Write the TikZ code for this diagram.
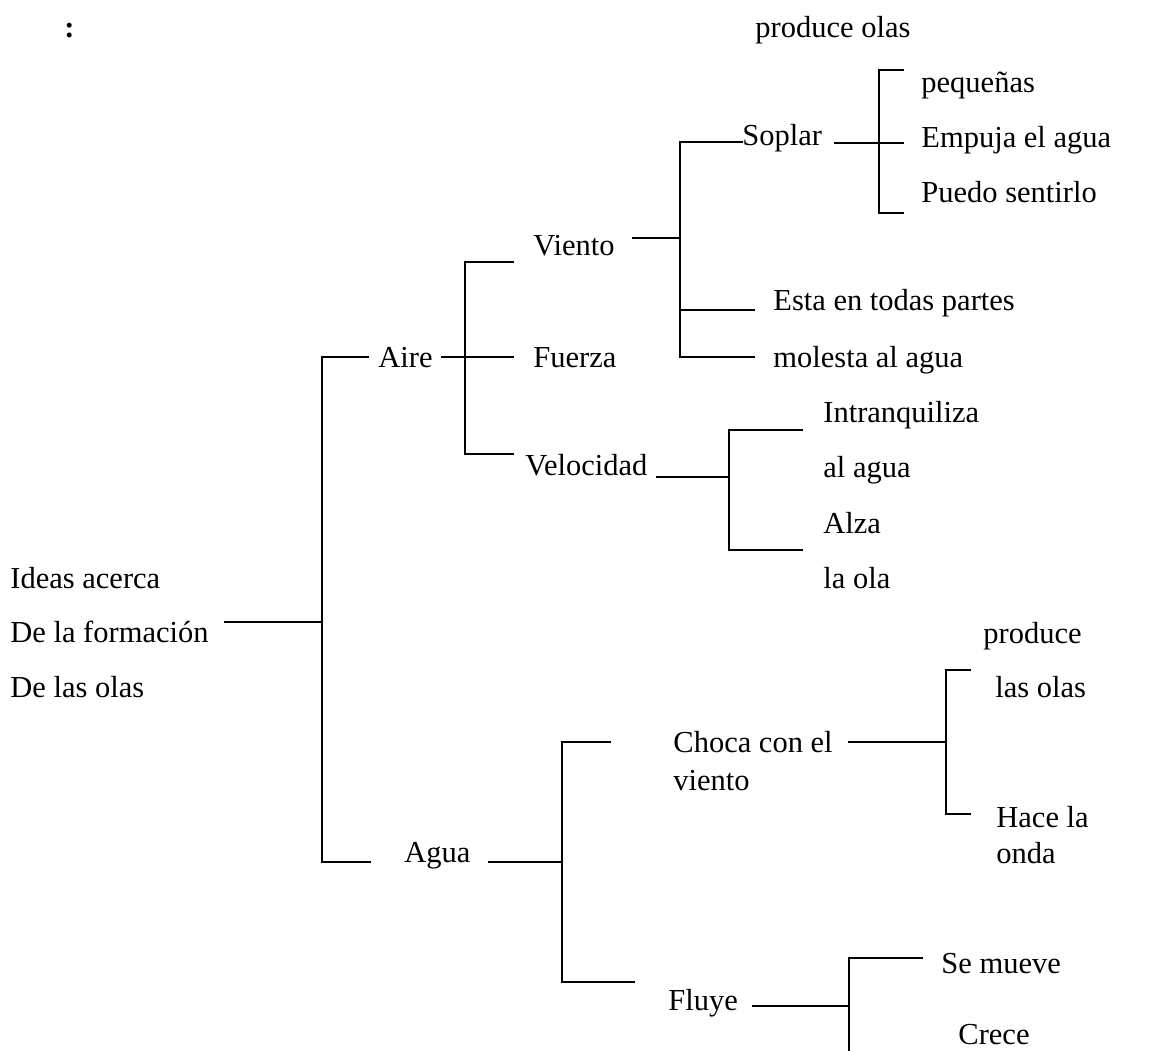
\documentclass[tikz,border=0pt]{standalone}
\usepackage{fontspec}
\setmainfont{Liberation Serif}
\begin{document}
\begin{tikzpicture}[x=0.5pt,y=-0.5pt,
  lbl/.style={anchor=base west,inner sep=0pt,font=\fontsize{15.25pt}{18pt}\selectfont},
  wire/.style={line width=1.1pt,line cap=rect}]
\useasboundingbox (0,0) rectangle (1155,1050);

% --- labels (x = left edge, y = baseline) ---
\node[lbl,font=\fontsize{15.25pt}{18pt}\selectfont\bfseries] (colon) at (64,37) {:};
\node[lbl] (prodolas) at (755,37) {produce olas};
\node[lbl] (peq) at (921,92) {pequeñas};
\node[lbl] (soplar) at (742,145) {Soplar};
\node[lbl] (empuja) at (921,147) {Empuja el agua};
\node[lbl] (puedo) at (921,202) {Puedo sentirlo};
\node[lbl] (viento) at (533,255) {Viento};
\node[lbl] (esta) at (773,310) {Esta en todas partes};
\node[lbl] (aire) at (378,367) {Aire};
\node[lbl] (fuerza) at (533,367) {Fuerza};
\node[lbl] (molesta) at (773,367) {molesta al agua};
\node[lbl] (intran) at (823,422) {Intranquiliza};
\node[lbl] (velocidad) at (525,475) {Velocidad};
\node[lbl] (alagua) at (823,477) {al agua};
\node[lbl] (alza) at (823,533) {Alza};
\node[lbl] (ideas) at (10,588) {Ideas acerca};
\node[lbl] (laola) at (823,588) {la ola};
\node[lbl] (formacion) at (10,642) {De la formación};
\node[lbl] (produce) at (983,643) {produce};
\node[lbl] (delasolas) at (10,697) {De las olas};
\node[lbl] (lasolas) at (995,697) {las olas};
\node[lbl] (choca) at (673,752) {Choca con el};
\node[lbl] (choca2) at (673,790) {viento};
\node[lbl] (hace) at (996,827) {Hace la};
\node[lbl] (onda) at (996,863) {onda};
\node[lbl] (agua) at (404,862) {Agua};
\node[lbl] (semueve) at (941,973) {Se mueve};
\node[lbl] (fluye) at (668,1010) {Fluye};
\node[lbl] (crece) at (958,1044) {Crece};

% --- joints of the brackets ---
\coordinate (r0) at (225,622);  \coordinate (rm) at (322,622);
\coordinate (rt) at (322,357);  \coordinate (rte) at (368,357);
\coordinate (rb) at (322,862);  \coordinate (rbe) at (370,862);

\coordinate (a0) at (442,357);  \coordinate (am) at (465,357);
\coordinate (a1) at (513,357);
\coordinate (at) at (465,262);  \coordinate (ate) at (513,262);
\coordinate (ab) at (465,454);  \coordinate (abe) at (513,454);

\coordinate (v0) at (633,238);  \coordinate (vm) at (680,238);
\coordinate (vt) at (680,142);  \coordinate (vte) at (742,142);
\coordinate (v2) at (680,310);  \coordinate (v2e) at (754,310);
\coordinate (vb) at (680,357);  \coordinate (vbe) at (754,357);

\coordinate (s0) at (835,143);  \coordinate (sm) at (879,143);
\coordinate (s1) at (903,143);
\coordinate (st) at (879,70);   \coordinate (ste) at (903,70);
\coordinate (sb) at (879,213);  \coordinate (sbe) at (903,213);

\coordinate (e0) at (657,477);  \coordinate (em) at (729,477);
\coordinate (et) at (729,430);  \coordinate (ete) at (802,430);
\coordinate (eb) at (729,550);  \coordinate (ebe) at (802,550);

\coordinate (g0) at (489,862);  \coordinate (gm) at (562,862);
\coordinate (gt) at (562,742);  \coordinate (gte) at (610,742);
\coordinate (gb) at (562,982);  \coordinate (gbe) at (634,982);

\coordinate (c0) at (849,742);  \coordinate (cm) at (946,742);
\coordinate (ct) at (946,670);  \coordinate (cte) at (970,670);
\coordinate (cb) at (946,814);  \coordinate (cbe) at (970,814);

\coordinate (f0) at (753,1006); \coordinate (fm) at (849,1006);
\coordinate (ft) at (849,958);  \coordinate (fte) at (922,958);
\coordinate (fb) at (849,1052);

% --- connectors ---
\draw[wire] (r0) -- (rm);
\draw[wire] (rte) -- (rt) -- (rb) -- (rbe);

\draw[wire] (a0) -- (a1);
\draw[wire] (ate) -- (at) -- (ab) -- (abe);

\draw[wire] (v0) -- (vm);
\draw[wire] (vte) -- (vt) -- (vb) -- (vbe);
\draw[wire] (v2) -- (v2e);

\draw[wire] (s0) -- (s1);
\draw[wire] (ste) -- (st) -- (sb) -- (sbe);

\draw[wire] (e0) -- (em);
\draw[wire] (ete) -- (et) -- (eb) -- (ebe);

\draw[wire] (g0) -- (gm);
\draw[wire] (gte) -- (gt) -- (gb) -- (gbe);

\draw[wire] (c0) -- (cm);
\draw[wire] (cte) -- (ct) -- (cb) -- (cbe);

\draw[wire] (f0) -- (fm);
\draw[wire] (fte) -- (ft) -- (fb);
\end{tikzpicture}
\end{document}
